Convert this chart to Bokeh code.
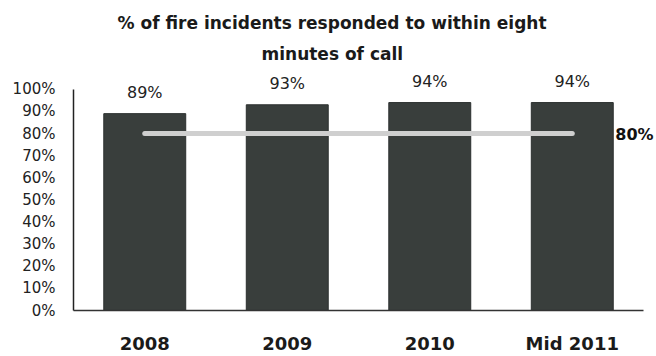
import numpy as np
from bokeh.plotting import figure
from bokeh.models import Range1d, FixedTicker, PrintfTickFormatter, Title, ColumnDataSource
from bokeh.core.properties import value
from bokeh.embed import file_html
from bokeh.resources import INLINE

# ---- data ----
categories = ["2008", "2009", "2010", "Mid 2011"]
values = [89, 93, 94, 94]
target = 80
y_ticks = [0, 10, 20, 30, 40, 50, 60, 70, 80, 90, 100]
title_line1 = "% of fire incidents responded to within eight"
title_line2 = "minutes of call"

FONT = "DejaVu Sans"
xs = list(range(len(categories)))

p = figure(width=656, height=356, output_backend="svg", toolbar_location=None,
           x_range=Range1d(-0.5, 3.591), y_range=Range1d(0, 108.5),
           min_border_left=73, min_border_right=0, min_border_top=70, min_border_bottom=43)
p.background_fill_color = "white"
p.border_fill_color = "white"
p.outline_line_color = None
p.xgrid.visible = False
p.ygrid.visible = False

src = ColumnDataSource(dict(x=xs, v=values, lab=[f"{v}%" for v in values]))
p.vbar(x="x", top="v", width=0.575, source=src, fill_color="#393e3c", line_color="#2c302f", line_width=1)

# target line
tsrc = ColumnDataSource(dict(x=[xs[0], xs[-1]], y=[target, target]))
p.line(x="x", y="y", source=tsrc, line_color="#cfcfcf", line_width=5, line_cap="round")

# value labels
p.text(x="x", y="v", text="lab", source=src, text_align="center", text_baseline="middle",
       y_offset=-21, text_font=value(FONT), text_font_size="16px", text_color="#222222")

# target label
p.text(x=[xs[-1]], y=[target], text=[f"{target}%"], text_align="left", text_baseline="middle",
       x_offset=43, y_offset=1, text_font=value(FONT), text_font_size="16px",
       text_font_style="bold", text_color="#111111")

# axes
p.yaxis.ticker = FixedTicker(ticks=y_ticks)
p.yaxis.formatter = PrintfTickFormatter(format="%d%%")
p.yaxis.bounds = (0, 100)
p.yaxis.major_tick_out = 0
p.yaxis.major_tick_in = 0
p.yaxis.minor_tick_out = 0
p.yaxis.minor_tick_in = 0
p.yaxis.major_label_standoff = 18
p.yaxis.axis_line_color = "#222222"
p.yaxis.axis_line_width = 1.5
p.yaxis.major_label_text_font = FONT
p.yaxis.major_label_text_font_size = "15px"
p.yaxis.major_label_text_color = "#222222"

p.xaxis.ticker = FixedTicker(ticks=xs)
p.xaxis.major_label_overrides = {i: c for i, c in zip(xs, categories)}
p.xaxis.bounds = (-0.5, 3.5)
p.xaxis.major_tick_out = 0
p.xaxis.major_tick_in = 0
p.xaxis.minor_tick_out = 0
p.xaxis.minor_tick_in = 0
p.xaxis.major_label_standoff = 22
p.xaxis.axis_line_color = "#333333"
p.xaxis.axis_line_width = 1.5
p.xaxis.major_label_text_font = FONT
p.xaxis.major_label_text_font_size = "18px"
p.xaxis.major_label_text_font_style = "bold"
p.xaxis.major_label_text_color = "#1a1a1a"

# title (two lines)
p.add_layout(Title(text=title_line2, align="left", offset=188, text_font=FONT,
                   text_font_size="17px", text_font_style="bold", text_color="#1a1a1a",
                   standoff=13), "above")
p.add_layout(Title(text=title_line1, align="left", offset=44, text_font=FONT,
                   text_font_size="17px", text_font_style="bold", text_color="#1a1a1a",
                   standoff=6), "above")

open("out.html", "w").write(file_html(p, INLINE))
